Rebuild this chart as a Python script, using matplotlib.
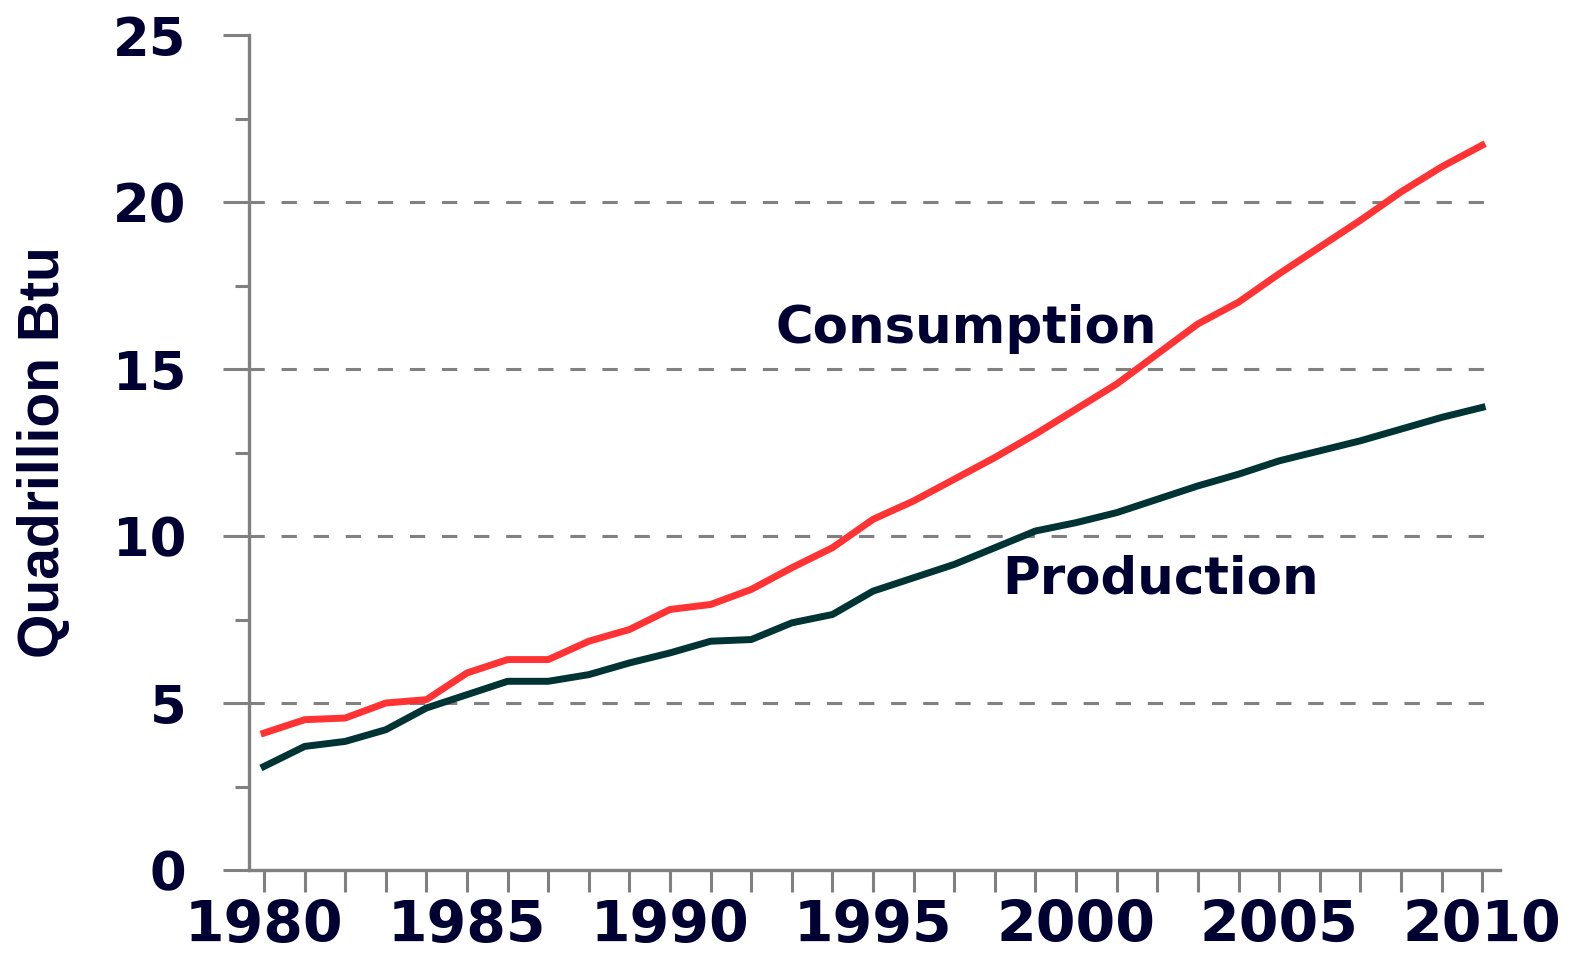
import matplotlib.pyplot as plt
from matplotlib.ticker import MultipleLocator

years = list(range(1980, 2011))
consumption = [4.1, 4.5, 4.55, 5.0, 5.1, 5.9, 6.3, 6.3, 6.85, 7.2,
               7.8, 7.95, 8.4, 9.05, 9.65, 10.5, 11.05, 11.7, 12.35, 13.05,
               13.8, 14.55, 15.45, 16.35, 17.0, 17.85, 18.65, 19.45, 20.3, 21.05,
               21.7]
production = [3.1, 3.7, 3.85, 4.2, 4.85, 5.25, 5.65, 5.65, 5.85, 6.2,
              6.5, 6.85, 6.9, 7.4, 7.65, 8.35, 8.75, 9.15, 9.65, 10.15,
              10.4, 10.7, 11.1, 11.5, 11.85, 12.25, 12.55, 12.85, 13.2, 13.55,
              13.85]
x_ticks = [1980, 1985, 1990, 1995, 2000, 2005, 2010]
y_ticks = [0, 5, 10, 15, 20, 25]
grid_levels = [5, 10, 15, 20]

navy = '#000033'
gray = '#808080'

fig = plt.figure(figsize=(15.69, 9.57), dpi=100)
ax = fig.add_axes([249/1569, 1 - 870/957, (1500 - 249)/1569, (870 - 35)/957])

for g in grid_levels:
    ax.axhline(g, color=gray, lw=2.2, ls=(0, (5, 5.5)), zorder=1)

ax.plot(years, consumption, color='#FF3333', lw=5, zorder=3)
ax.plot(years, production, color='#003333', lw=5, zorder=3)

ax.set_xlim(1979.63, 2010.44)
ax.set_ylim(0, 25)

for s in ['top', 'right']:
    ax.spines[s].set_visible(False)
for s in ['left', 'bottom']:
    ax.spines[s].set_color(gray)
    ax.spines[s].set_linewidth(2.4)

ax.set_xticks(x_ticks)
ax.xaxis.set_minor_locator(MultipleLocator(1))
ax.set_yticks(y_ticks)
ax.yaxis.set_minor_locator(MultipleLocator(2.5))

ax.tick_params(axis='x', which='both', direction='out', length=16, width=2.2,
               color=gray, pad=5)
ax.tick_params(axis='y', which='major', direction='out', length=19, width=2.2,
               color=gray, pad=26)
ax.tick_params(axis='y', which='minor', direction='out', length=10, width=2.2,
               color=gray)

for lab in ax.get_xticklabels():
    lab.set_fontfamily('DejaVu Sans')
    lab.set_fontweight('bold')
    lab.set_fontsize(41)
    lab.set_color(navy)
for lab in ax.get_yticklabels():
    lab.set_fontfamily('DejaVu Sans')
    lab.set_fontweight('bold')
    lab.set_fontsize(38)
    lab.set_color(navy)

ax.set_ylabel('Quadrillion Btu', fontsize=41, fontweight='bold',
              family='Liberation Sans', color=navy)
ax.yaxis.set_label_coords(-0.142, 0.5)

ax.text(1992.59, 15.78, 'Consumption', fontsize=37, fontweight='bold',
        family='DejaVu Sans', color=navy, ha='left', va='baseline')
ax.text(1998.18, 8.29, 'Production', fontsize=37, fontweight='bold',
        family='DejaVu Sans', color=navy, ha='left', va='baseline')

plt.savefig('out.png', dpi=100)
